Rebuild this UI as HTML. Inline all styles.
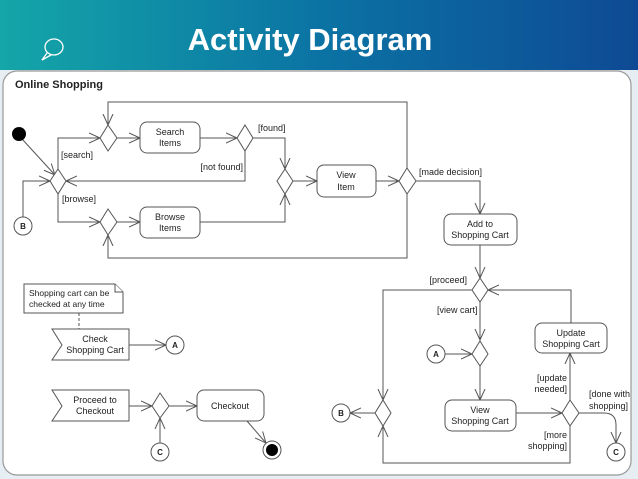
<!DOCTYPE html>
<html><head><meta charset="utf-8"><style>
html,body{margin:0;padding:0;width:638px;height:479px;overflow:hidden;background:#e6edf3;}
svg{display:block;font-family:"Liberation Sans",sans-serif;}
</style></head><body>
<svg width="638" height="479" viewBox="0 0 638 479" xmlns="http://www.w3.org/2000/svg">
<defs>
<linearGradient id="g" x1="0" y1="0" x2="1" y2="0">
<stop offset="0" stop-color="#14a6a8"/><stop offset="0.5" stop-color="#0b73a4"/><stop offset="1" stop-color="#0e4a94"/>
</linearGradient>
<marker id="a" viewBox="0 0 12 12" refX="11" refY="6" markerWidth="12" markerHeight="12" markerUnits="userSpaceOnUse" orient="auto">
<path d="M0,1 L11,6 L0,11" fill="none" stroke="#555" stroke-width="1"/>
</marker>
</defs>
<rect x="0" y="0" width="638" height="70" fill="url(#g)"/>
<text x="310" y="50" text-anchor="middle" font-size="31" font-weight="bold" fill="#fff">Activity Diagram</text>
<g fill="none" stroke="#fff" stroke-width="1.3"><ellipse cx="54" cy="47" rx="9" ry="8"/><path d="M47,53 L42,60 L51,55"/></g>
<rect x="3" y="71" width="628" height="404" rx="14" fill="#fff" stroke="#999" stroke-width="1.2"/>
<text x="15" y="88" font-size="11" font-weight="bold" fill="#222">Online Shopping</text>

<g fill="none" stroke="#555" stroke-width="1">
<path d="M22,139 L55,175" marker-end="url(#a)"/>
<path d="M23,217 V181 H50" marker-end="url(#a)"/>
<path d="M58,169 V138 H100" marker-end="url(#a)"/>
<path d="M58,194 V222 H100" marker-end="url(#a)"/>
<path d="M117,138 H140" marker-end="url(#a)"/>
<path d="M117,222 H140" marker-end="url(#a)"/>
<path d="M200,138 H237" marker-end="url(#a)"/>
<path d="M253,138 H285 V169" marker-end="url(#a)"/>
<path d="M245,151 V181 H66" marker-end="url(#a)"/>
<path d="M200,222 H285 V194" marker-end="url(#a)"/>
<path d="M293,181 H317" marker-end="url(#a)"/>
<path d="M376,181 H399" marker-end="url(#a)"/>
<path d="M407,168 V102 H108 V125" marker-end="url(#a)"/>
<path d="M407,194 V258 H108 V235" marker-end="url(#a)"/>
<path d="M416,181 H480 V214" marker-end="url(#a)"/>
<path d="M480,245 V278" marker-end="url(#a)"/>
<path d="M472,290 H383 V400" marker-end="url(#a)"/>
<path d="M480,302 V340" marker-end="url(#a)"/>
<path d="M445,354 H472" marker-end="url(#a)"/>
<path d="M480,366 V400" marker-end="url(#a)"/>
<path d="M375,413 H350" marker-end="url(#a)"/>
<path d="M516,413 H562" marker-end="url(#a)"/>
<path d="M570,400 V353" marker-end="url(#a)"/>
<path d="M571,323 V290 H488" marker-end="url(#a)"/>
<path d="M570,426 V463 H383 V426" marker-end="url(#a)"/>
<path d="M579,413 H604 Q616,413 616,425 V443" marker-end="url(#a)"/>
<path d="M79,313 V329" stroke-dasharray="3,2"/>
<path d="M129,345 H166" marker-end="url(#a)"/>
<path d="M129,406 H152" marker-end="url(#a)"/>
<path d="M160,443 V418" marker-end="url(#a)"/>
<path d="M169,406 H197" marker-end="url(#a)"/>
<path d="M247,421 L266,443" marker-end="url(#a)"/>
</g>

<g fill="#fff" stroke="#555" stroke-width="1">
<path d="M58,169 L66,181 L58,194 L50,181 Z"/>
<path d="M108,125 L117,138 L108,151 L100,138 Z"/>
<path d="M108,209 L117,222 L108,235 L100,222 Z"/>
<path d="M245,125 L253,138 L245,151 L237,138 Z"/>
<path d="M285,169 L293,181 L285,194 L277,181 Z"/>
<path d="M407,168 L416,181 L407,194 L399,181 Z"/>
<path d="M480,278 L488,290 L480,302 L472,290 Z"/>
<path d="M480,341 L488,354 L480,366 L472,354 Z"/>
<path d="M383,400 L391,413 L383,426 L375,413 Z"/>
<path d="M570,400 L579,413 L570,426 L562,413 Z"/>
<path d="M160,393 L169,406 L160,418 L152,406 Z"/>
<rect x="140" y="122" width="60" height="31" rx="7"/>
<rect x="140" y="207" width="60" height="31" rx="7"/>
<rect x="317" y="165" width="59" height="32" rx="7"/>
<rect x="444" y="214" width="73" height="31" rx="7"/>
<rect x="445" y="400" width="71" height="31" rx="7"/>
<rect x="535" y="323" width="72" height="30" rx="7"/>
<rect x="197" y="390" width="67" height="31" rx="7"/>
<path d="M52,329 H129 V360 H52 L62,345 Z"/>
<path d="M52,390 H129 V421 H52 L62,406 Z"/>
<path d="M24,284 H115 L123,292 V313 H24 Z"/>
<path d="M115,284 V292 H123"/>
<circle cx="23" cy="226" r="9"/>
<circle cx="341" cy="413" r="9"/>
<circle cx="436" cy="354" r="9"/>
<circle cx="616" cy="452" r="9"/>
<circle cx="175" cy="345" r="9"/>
<circle cx="160" cy="452" r="9"/>
<circle cx="272" cy="450" r="9"/>
</g>
<circle cx="19" cy="134" r="7" fill="#000"/>
<circle cx="272" cy="450" r="6" fill="#000"/>

<g font-size="9" fill="#222" text-anchor="middle">
<text x="170" y="135">Search</text><text x="170" y="146">Items</text>
<text x="170" y="220">Browse</text><text x="170" y="231">Items</text>
<text x="346" y="178">View</text><text x="346" y="190">Item</text>
<text x="480" y="227">Add to</text><text x="480" y="238">Shopping Cart</text>
<text x="480" y="413">View</text><text x="480" y="424">Shopping Cart</text>
<text x="571" y="336">Update</text><text x="571" y="347">Shopping Cart</text>
<text x="230" y="409">Checkout</text>
<text x="95" y="342">Check</text><text x="95" y="353">Shopping Cart</text>
<text x="95" y="403">Proceed to</text><text x="95" y="414">Checkout</text>
<g font-weight="bold" font-size="8"><text x="23" y="229">B</text><text x="341" y="416">B</text><text x="436" y="357">A</text><text x="175" y="348">A</text><text x="616" y="455">C</text><text x="160" y="455">C</text></g>
</g>
<g font-size="9" fill="#222">
<text x="29" y="296" font-size="8.5">Shopping cart can be</text><text x="29" y="307" font-size="8.5">checked at any time</text>
<text x="61" y="158">[search]</text>
<text x="62" y="202">[browse]</text>
<text x="258" y="131">[found]</text>
<text x="419" y="175">[made decision]</text>
<text x="437" y="313">[view cart]</text>
<text x="589" y="397">[done with</text><text x="589" y="409">shopping]</text>
</g>
<g font-size="9" fill="#222" text-anchor="end">
<text x="243" y="170">[not found]</text>
<text x="467" y="283">[proceed]</text>
<text x="567" y="381">[update</text><text x="567" y="392">needed]</text>
<text x="567" y="438">[more</text><text x="567" y="449">shopping]</text>
</g>
</svg>
</body></html>
